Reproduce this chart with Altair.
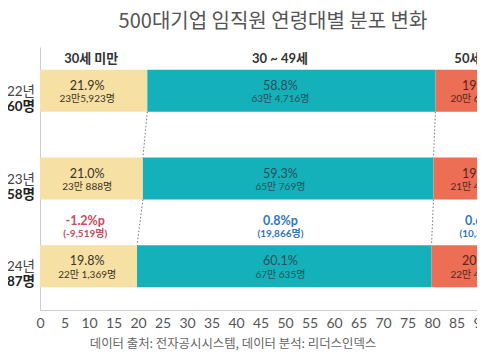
import altair as alt
import pandas as pd

# ---------------- data ----------------
years = ["2022년", "2023년", "2024년"]
totals = ["107만 6,560명", "109만 5,758명", "111만 6,587명"]
groups = ["30세 미만", "30 ~ 49세", "50세 이상"]
young_pct = [21.9, 21.0, 19.8]
mid_pct = [58.8, 59.3, 60.1]
old_pct = [19.1, 19.5, 20.1]
young_cnt = ["23만5,923명", "23만 888명", "22만 1,369명"]
mid_cnt = ["63만 4,716명", "65만 769명", "67만 635명"]
old_cnt = ["20만 6,021명", "21만 4,061명", "22만 4,405명"]
diff_pct = ["-1.2%p", "0.8%p", "0.6%p"]
diff_cnt = ["(-9,519명)", "(19,866명)", "(10,344명)"]
x_ticks = list(range(0, 101, 5))
title_text = "500대기업 임직원 연령대별 분포 변화"
source_text = "데이터 출처: 전자공시시스템, 데이터 분석: 리더스인덱스"

# ---------------- styles / layout ----------------
bar_colors = ["#F7E0A4", "#15B1BB", "#EB6E55"]
text_colors = ["#3a3326", "#24505a", "#5a2418"]
diff_colors = ["#C94B5C", "#2F77C0", "#2F77C0"]
FONT = "Lato, Noto Sans CJK KR, sans-serif"
KFONT = "Noto Sans CJK KR, sans-serif"
PLOT_W, PLOT_H = 437, 263
PX_PER_UNIT = 4.9
BAR_PX = 42
row_pos = [1, 2, 3]
HEADER_ROW = 0.64
DIFF_ROW = 2.55
Y_DOMAIN = [0.5, 3.5]
half = (BAR_PX / 2) / (PLOT_H / (Y_DOMAIN[1] - Y_DOMAIN[0]))
label_shift_px = [-4, -7.5, -2]
header_shift_px = [0, -8, 0]
diff_shift_px = [-6, -7.5, 1]

pcts = [young_pct, mid_pct, old_pct]
cnts = [young_cnt, mid_cnt, old_cnt]

bar_rows = []
for i, yr in enumerate(years):
    cum = 0.0
    for j, g in enumerate(groups):
        p = pcts[j][i]
        bar_rows.append(dict(year=yr, group=g, row=row_pos[i], start=cum, end=cum + p,
                             center=cum + p / 2, pct=f"{p:.1f}%", cnt=cnts[j][i]))
        cum += p
bars_df = pd.DataFrame(bar_rows)

mean_center = bars_df.groupby("group", sort=False)["center"].mean().reindex(groups).tolist()

lab_rows = []
for r in bar_rows:
    j = groups.index(r["group"])
    lab_rows.append(dict(r, lx=mean_center[j] + label_shift_px[j] / PX_PER_UNIT,
                         tcolor=text_colors[j]))
lab_df = pd.DataFrame(lab_rows)

head_df = pd.DataFrame(dict(group=groups, row=[HEADER_ROW] * 3,
                            hx=[mean_center[j] + header_shift_px[j] / PX_PER_UNIT for j in range(3)]))

diff_df = pd.DataFrame(dict(pct=diff_pct, cnt=diff_cnt, color=diff_colors, row=[DIFF_ROW] * 3,
                            dx=[mean_center[j] + diff_shift_px[j] / PX_PER_UNIT for j in range(3)]))

conn_rows = []
for i in range(len(years) - 1):
    c0, c1 = 0.0, 0.0
    for j in range(2):
        c0 += pcts[j][i]
        c1 += pcts[j][i + 1]
        conn_rows.append(dict(x=c0, x2=c1, y=row_pos[i] + half, y2=row_pos[i + 1] - half))
conn_df = pd.DataFrame(conn_rows)

year_df = pd.DataFrame(dict(year=years, total=totals, row=row_pos))

xscale = alt.Scale(domain=[0, 100], range=[0, 100 * PX_PER_UNIT], nice=False, zero=False, padding=0)
yscale = alt.Scale(domain=Y_DOMAIN, reverse=True, nice=False, zero=False, padding=0)

X_AXIS = alt.Axis(values=x_ticks, title=None, ticks=False, grid=False, domainColor="#cccccc",
                  labelColor="#555555", labelFontSize=14, labelFont=FONT,
                  labelPadding=6, labelFlush=False, labelOverlap=False)
Y_AXIS = alt.Axis(title=None, labels=False, ticks=False, grid=False, domainColor="#cccccc")


def X(field):
    return alt.X(field, scale=xscale, axis=X_AXIS)


def Y(field):
    return alt.Y(field, scale=yscale, axis=Y_AXIS)


bars = alt.Chart(bars_df).mark_bar(size=BAR_PX).encode(
    x=X("start:Q"), x2="end:Q", y=Y("row:Q"),
    color=alt.Color("group:N", scale=alt.Scale(domain=groups, range=bar_colors), legend=None),
)

conn = alt.Chart(conn_df).mark_rule(strokeDash=[1.5, 2], color="#777777", strokeWidth=1).encode(
    x=X("x:Q"), x2="x2:Q", y=Y("y:Q"), y2="y2:Q")

pct_txt = alt.Chart(lab_df).mark_text(font=FONT, fontSize=12.5, dy=-5).encode(
    x=X("lx:Q"), y=Y("row:Q"), text="pct:N", color=alt.Color("tcolor:N", scale=None))
cnt_txt = alt.Chart(lab_df).mark_text(font=FONT, fontSize=10, dy=8.5).encode(
    x=X("lx:Q"), y=Y("row:Q"), text="cnt:N", color=alt.Color("tcolor:N", scale=None))

head_txt = alt.Chart(head_df).mark_text(font=FONT, fontSize=13, fontWeight="bold", color="#333333").encode(
    x=X("hx:Q"), y=Y("row:Q"), text="group:N")

diff_pct_txt = alt.Chart(diff_df).mark_text(font=FONT, fontSize=12.5, fontWeight="bold", dy=-6).encode(
    x=X("dx:Q"), y=Y("row:Q"), text="pct:N", color=alt.Color("color:N", scale=None))
diff_cnt_txt = alt.Chart(diff_df).mark_text(font=FONT, fontSize=10, fontWeight="bold", dy=7).encode(
    x=X("dx:Q"), y=Y("row:Q"), text="cnt:N", color=alt.Color("color:N", scale=None))

year_txt = alt.Chart(year_df).mark_text(font=FONT, fontSize=13.5, align="right", dy=1, color="#444444").encode(
    x=alt.value(-5), y=Y("row:Q"), text="year:N")
total_txt = alt.Chart(year_df).mark_text(font=FONT, fontSize=13.5, fontWeight="bold", align="right", dy=16,
                                         color="#222222").encode(
    x=alt.value(-5), y=Y("row:Q"), text="total:N")

title = alt.Chart(pd.DataFrame(dict(t=[title_text]))).mark_text(
    font=KFONT, fontSize=20, color="#555555").encode(
    x=alt.value(233), y=alt.value(-25), text="t:N")
source = alt.Chart(pd.DataFrame(dict(t=[source_text]))).mark_text(
    font=KFONT, fontSize=12.4, color="#666666").encode(
    x=alt.value(193), y=alt.value(297), text="t:N")

chart = alt.layer(bars, conn, pct_txt, cnt_txt, head_txt, diff_pct_txt, diff_cnt_txt,
                  year_txt, total_txt, title, source).properties(
    width=PLOT_W, height=PLOT_H,
    autosize=alt.AutoSizeParams(type="none"),
    padding={"left": 32, "top": 39, "right": 0, "bottom": 42},
).configure_view(stroke=None).configure_axisX(labelOverlap=False, labelFlush=False)

chart.save("out.html", embed_options={"renderer": "svg", "actions": False})
